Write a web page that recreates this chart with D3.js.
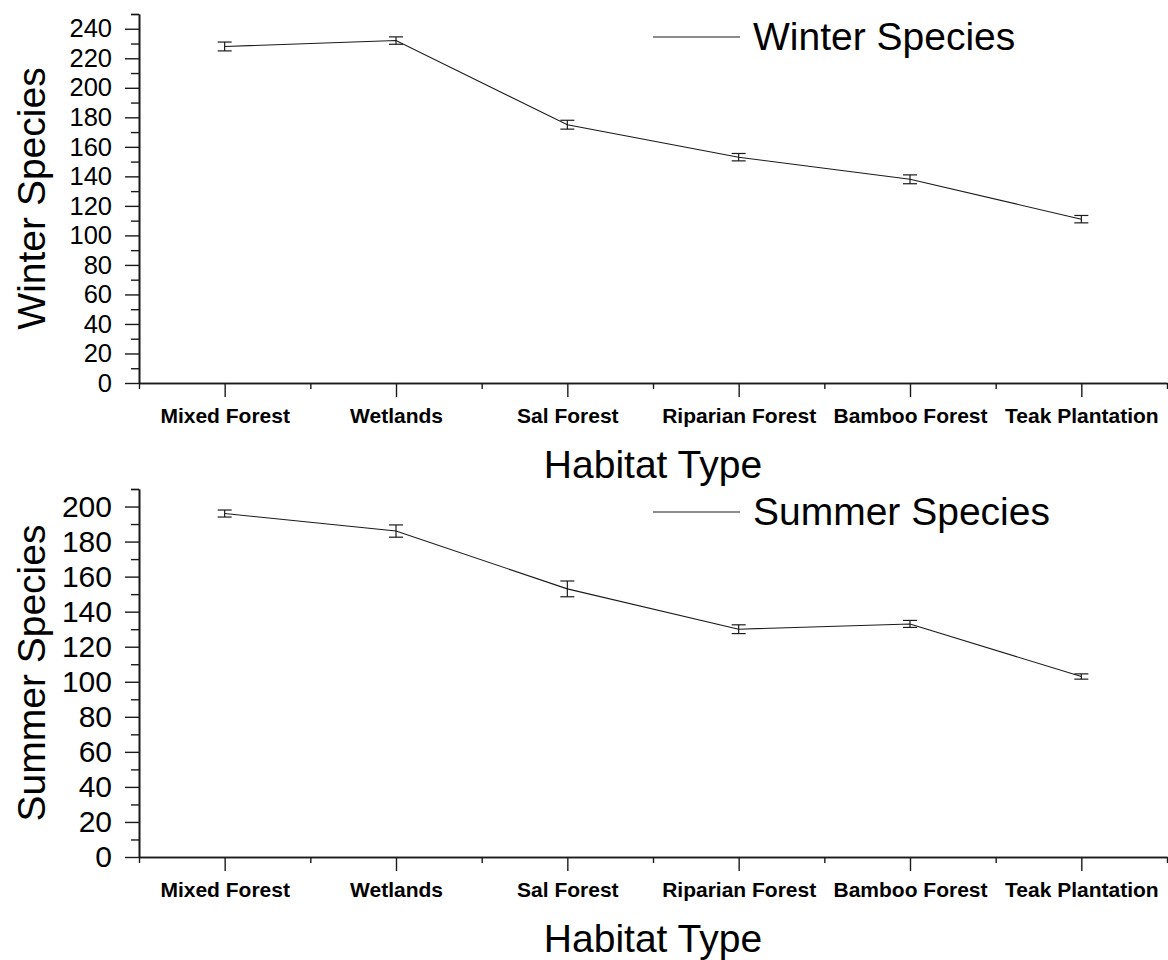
<!DOCTYPE html>
<html>
<head>
<meta charset="utf-8">
<script src="https://cdn.jsdelivr.net/npm/d3@7"></script>
<style>
  body { margin: 0; background: #fff; }
  svg { display: block; font-family: "Liberation Sans", Arial, sans-serif; }
</style>
</head>
<body>
<svg id="chart" width="1168" height="960"></svg>
<script>
  // Habitat categories along the x axis
  var habitats = ["Mixed Forest", "Wetlands", "Sal Forest", "Riparian Forest", "Bamboo Forest", "Teak Plantation"];

  // Species counts, with error bar half-widths
  var winterSpecies = [228, 232, 175, 153, 138, 111];
  var winterError = [3, 2.5, 3, 2.5, 3, 2.5];
  var summerSpecies = [196, 186, 153, 130, 133, 103];
  var summerError = [2, 3.5, 4.5, 2.5, 2, 1.5];

  var winterTicks = d3.range(0, 241, 20);
  var summerTicks = d3.range(0, 201, 20);

  var svg = d3.select("#chart");
  var ink = "#1a1a1a";

  var x = d3.scaleLinear().domain([0.5, habitats.length + 0.5]).range([139, 1167]);

  function drawPanel(opts) {
    var g = svg.append("g");
    var y = d3.scaleLinear().domain([0, opts.yMax]).range([opts.bottom, opts.top]);

    // minor y ticks (odd tens, plus the cap at yMax)
    g.append("g")
      .attr("transform", "translate(139,0)")
      .call(d3.axisLeft(y)
        .tickValues(d3.range(10, opts.yMax + 1, 20).concat([opts.yMax]))
        .tickSize(8).tickSizeOuter(0).tickFormat(""));

    // major y ticks
    var yAxis = g.append("g")
      .attr("transform", "translate(139,0)")
      .call(d3.axisLeft(y)
        .tickValues(opts.ticks)
        .tickSize(14).tickSizeOuter(0).tickPadding(13));
    yAxis.selectAll("text").style("font-size", opts.tickFont).attr("fill", "#000");

    // minor x ticks between categories
    g.append("g")
      .attr("transform", "translate(0," + opts.bottom + ")")
      .call(d3.axisBottom(x)
        .tickValues(d3.range(0.5, habitats.length + 1, 1))
        .tickSize(6).tickSizeOuter(0).tickFormat(""));

    // major x ticks at categories
    var xAxis = g.append("g")
      .attr("transform", "translate(0," + opts.bottom + ")")
      .call(d3.axisBottom(x)
        .tickValues(d3.range(1, habitats.length + 1))
        .tickSize(14).tickSizeOuter(0).tickPadding(11)
        .tickFormat(function(d) { return habitats[d - 1]; }));
    xAxis.selectAll("text")
      .style("font-size", "21px")
      .style("font-weight", "bold")
      .attr("fill", "#000");

    g.selectAll(".domain").attr("stroke", ink).attr("stroke-width", 1.6);
    g.selectAll(".tick line").attr("stroke", ink).attr("stroke-width", 1.4);

    // axis titles
    g.append("text")
      .attr("transform", "translate(45," + (opts.top + opts.bottom) / 2 + ") rotate(-90)")
      .attr("text-anchor", "middle")
      .style("font-size", "39px")
      .text(opts.yTitle);

    g.append("text")
      .attr("x", 653)
      .attr("y", opts.bottom + 95)
      .attr("text-anchor", "middle")
      .style("font-size", "39px")
      .text("Habitat Type");

    // series line
    var line = d3.line()
      .x(function(d, i) { return x(i + 1); })
      .y(function(d) { return y(d); });

    g.append("path")
      .datum(opts.values)
      .attr("fill", "none")
      .attr("stroke", ink)
      .attr("stroke-width", 1.1)
      .attr("d", line);

    // error bars
    var bars = g.selectAll("g.err")
      .data(opts.values)
      .enter()
      .append("g")
      .attr("class", "err")
      .attr("stroke", ink)
      .attr("stroke-width", 1.2);

    bars.append("line")
      .attr("x1", function(d, i) { return x(i + 1); })
      .attr("x2", function(d, i) { return x(i + 1); })
      .attr("y1", function(d, i) { return y(d - opts.errors[i]); })
      .attr("y2", function(d, i) { return y(d + opts.errors[i]); });
    bars.append("line")
      .attr("x1", function(d, i) { return x(i + 1) - 7; })
      .attr("x2", function(d, i) { return x(i + 1) + 7; })
      .attr("y1", function(d, i) { return y(d + opts.errors[i]); })
      .attr("y2", function(d, i) { return y(d + opts.errors[i]); });
    bars.append("line")
      .attr("x1", function(d, i) { return x(i + 1) - 7; })
      .attr("x2", function(d, i) { return x(i + 1) + 7; })
      .attr("y1", function(d, i) { return y(d - opts.errors[i]); })
      .attr("y2", function(d, i) { return y(d - opts.errors[i]); });

    // legend
    var ly = opts.top + 23;
    g.append("line")
      .attr("x1", 653).attr("x2", 740)
      .attr("y1", ly).attr("y2", ly)
      .attr("stroke", ink)
      .attr("stroke-width", 1.2);
    g.append("text")
      .attr("x", 753)
      .attr("y", ly + 13)
      .style("font-size", "39px")
      .text(opts.legend);
  }

  drawPanel({
    values: winterSpecies, errors: winterError, ticks: winterTicks,
    yMax: 250, top: 14, bottom: 383, tickFont: "25.5px",
    yTitle: "Winter Species", legend: "Winter Species"
  });

  drawPanel({
    values: summerSpecies, errors: summerError, ticks: summerTicks,
    yMax: 210, top: 489, bottom: 857, tickFont: "30px",
    yTitle: "Summer Species", legend: "Summer Species"
  });
</script>
</body>
</html>
